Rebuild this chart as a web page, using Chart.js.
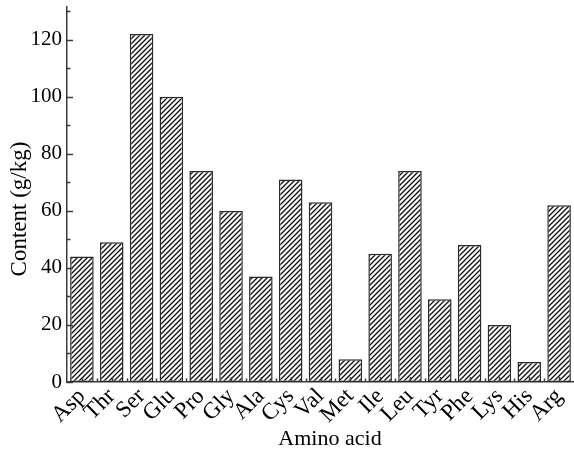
<!DOCTYPE html>
<html>
<head>
<meta charset="utf-8">
<script src="https://cdn.jsdelivr.net/npm/chart.js@4.4.0/dist/chart.umd.min.js"></script>
<style>
  body { margin: 0; background: #fff; }
</style>
</head>
<body>
<canvas id="aminoChart" width="574" height="450"></canvas>
<script>
//Data
var aminoAcids = ["Asp", "Thr", "Ser", "Glu", "Pro", "Gly", "Ala", "Cys", "Val", "Met", "Ile", "Leu", "Tyr", "Phe", "Lys", "His", "Arg"];
var contents = [44, 49, 122, 100, 74, 60, 37, 71, 63, 8, 45, 74, 29, 48, 20, 7, 62];
var yTickValues = [0, 20, 40, 60, 80, 100, 120];
var yMinorValues = [10, 30, 50, 70, 90, 110, 130];

var serif = "'Liberation Serif', 'Times New Roman', serif";
var axisColor = "#3a3a3a";

//Hatched fill "///"
function makeHatch() {
  var c = document.createElement('canvas');
  c.width = 5; c.height = 5;
  var g = c.getContext('2d');
  g.fillStyle = "#fff";
  g.fillRect(0, 0, 5, 5);
  g.strokeStyle = "#111";
  g.lineWidth = 1.35;
  g.beginPath();
  g.moveTo(-1, 6); g.lineTo(6, -1);
  g.moveTo(-1, 1); g.lineTo(1, -1);
  g.moveTo(4, 6); g.lineTo(6, 4);
  g.stroke();
  return g.createPattern(c, 'repeat');
}

//Inward tick marks + axis titles
var innerTicks = {
  id: 'innerTicks',
  afterDatasetsDraw: function (chart) {
    var ctx = chart.ctx, x = chart.scales.x, y = chart.scales.y;
    var left = chart.chartArea.left, bottom = chart.chartArea.bottom;
    ctx.save();
    ctx.strokeStyle = axisColor;
    ctx.lineWidth = 1.5;
    ctx.beginPath();
    yTickValues.forEach(function (v) {
      var p = Math.round(y.getPixelForValue(v)) + 0.5;
      ctx.moveTo(left, p); ctx.lineTo(left + 6, p);
    });
    yMinorValues.forEach(function (v) {
      var p = Math.round(y.getPixelForValue(v)) + 0.5;
      ctx.moveTo(left, p); ctx.lineTo(left + 3.5, p);
    });
    aminoAcids.forEach(function (a, i) {
      var p = Math.round(x.getPixelForValue(i)) + 0.5;
      ctx.moveTo(p, bottom); ctx.lineTo(p, bottom - 5);
      if (i > 0) {
        var q = Math.round((x.getPixelForValue(i) + x.getPixelForValue(i - 1)) / 2) + 0.5;
        ctx.moveTo(q, bottom); ctx.lineTo(q, bottom - 3.5);
      }
    });
    ctx.stroke();

    //axis titles
    ctx.fillStyle = "#000";
    ctx.font = "22px " + serif;
    ctx.textAlign = "center";
    ctx.textBaseline = "alphabetic";
    ctx.fillText("Amino acid", 330, 445);
    ctx.translate(26, 209);
    ctx.rotate(-Math.PI / 2);
    ctx.font = "23px " + serif;
    ctx.fillText("Content (g/kg)", 0, 0);
    ctx.restore();
  }
};

var contentChart = new Chart(document.getElementById('aminoChart'), {
  type: 'bar',
  data: {
    labels: aminoAcids,
    datasets: [{
      data: contents,
      backgroundColor: makeHatch(),
      borderColor: "#2a2a2a",
      borderWidth: 1.5,
      borderSkipped: false,
      barPercentage: 0.79,
      categoryPercentage: 1.0
    }]
  },
  options: {
    responsive: false,
    animation: false,
    devicePixelRatio: 1,
    layout: { padding: { top: 7, right: 0, left: 0, bottom: 0 } },
    plugins: { legend: { display: false }, tooltip: { enabled: false } },
    scales: {
      x: {
        offset: true,
        grid: { display: false, drawTicks: false },
        border: { color: axisColor, width: 1.5 },
        ticks: {
          autoSkip: false,
          maxRotation: 45,
          minRotation: 45,
          padding: 1,
          color: "#000",
          font: { family: serif, size: 23 }
        },
        afterFit: function (scale) {
          scale.height = 68;
          scale.paddingLeft = 0;
          scale.paddingRight = 0;
        }
      },
      y: {
        min: 0,
        max: 131.5,
        grid: { display: false, drawTicks: false },
        border: { color: axisColor, width: 1.5 },
        ticks: {
          padding: 5,
          color: "#000",
          font: { family: serif, size: 21 }
        },
        afterBuildTicks: function (scale) {
          scale.ticks = yTickValues.map(function (v) { return { value: v }; });
        },
        afterFit: function (scale) {
          scale.width = 67;
          scale.paddingTop = 0;
          scale.paddingBottom = 0;
        }
      }
    }
  },
  plugins: [innerTicks]
});
</script>
</body>
</html>
